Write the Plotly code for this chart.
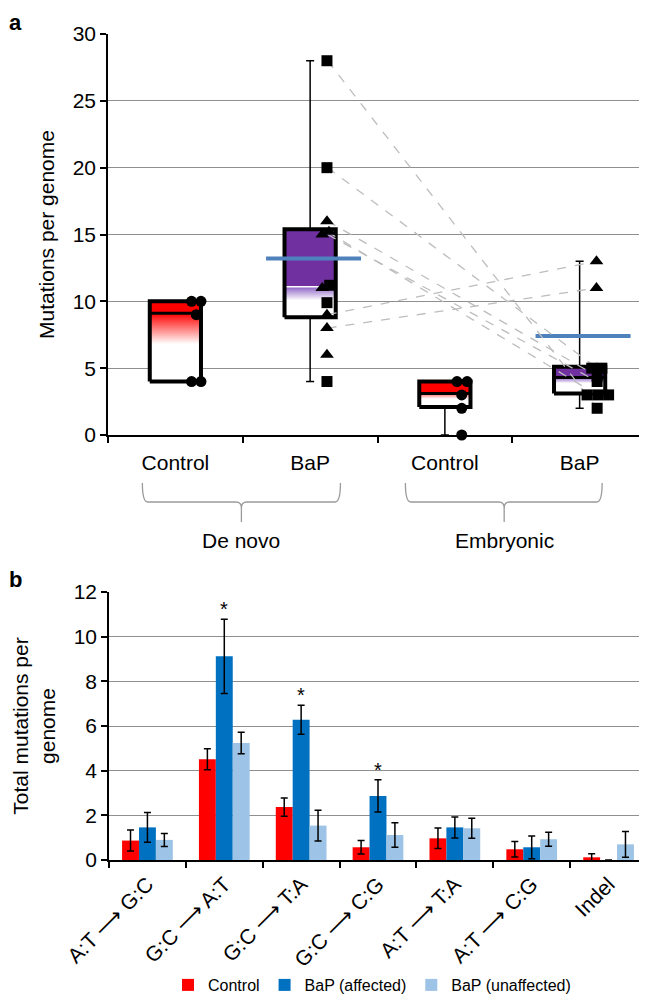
import plotly.graph_objects as go

# ---------------- DATA ----------------
# Panel a
groups = ["Control", "BaP", "Control", "BaP"]
sections = ["De novo", "Embryonic"]
box_min = [4, 4, 0, 2]
box_q1 = [4, 8.8, 2.1, 3.1]
box_median = [9.1, 11.1, 3.1, 4.3]
box_q3 = [10, 15.4, 4.0, 5.1]
box_max = [10, 28, 4, 13]
bap_mean = [None, 13.2, None, 7.4]

control_denovo = [10, 10, 9, 4, 4]
control_embryonic = [4, 4, 3, 2, 0]
bap_denovo_squares = [28, 20, 11.2, 9.9, 4]
bap_denovo_triangles = [16, 15, 15.2, 11, 9, 8, 6]
bap_embryonic_squares = [5, 5, 4.4, 4, 3, 3, 3, 2]
bap_embryonic_triangles = [13, 11]
pair_denovo = [28, 20, 16, 15, 15.2, 9, 8]
pair_embryonic = [2, 5, 4.4, 4, 3, 13, 11]

# Panel b
mutation_types = ["A:T \u27F6 G:C", "G:C \u27F6 A:T", "G:C \u27F6 T:A", "G:C \u27F6 C:G",
                  "A:T \u27F6 T:A", "A:T \u27F6 C:G", "Indel"]
series_names = ["Control", "BaP (affected)", "BaP (unaffected)"]
control_vals = [0.87, 4.51, 2.37, 0.57, 0.97, 0.48, 0.12]
control_err = [0.47, 0.47, 0.41, 0.30, 0.46, 0.35, 0.16]
affected_vals = [1.46, 9.12, 6.28, 2.87, 1.46, 0.57, 0.0]
affected_err = [0.67, 1.66, 0.65, 0.72, 0.47, 0.51, 0.0]
unaffected_vals = [0.90, 5.24, 1.54, 1.12, 1.42, 0.93, 0.70]
unaffected_err = [0.29, 0.48, 0.69, 0.55, 0.45, 0.31, 0.58]
significant = [False, True, True, True, False, False, False]

# ---------------- STYLE ----------------
FONT = "Liberation Sans, Arial, Helvetica, sans-serif"
FS = 21
PAGE_OFF = 8            # browser body margin
W, H = 647 - PAGE_OFF, 994 - PAGE_OFF
RED = "#FF0000"
PURPLE = "#7030A0"
BLUE = "#0070C0"
LBLUE = "#9DC3E6"
MEAN_BLUE = "#4F81BD"
GRID = "#8f8f8f"

def fx(p):  # page pixel column -> paper
    return (p - PAGE_OFF) / W

def fy(p):  # page pixel row -> paper
    return 1 - (p - PAGE_OFF) / H

upper_colors = [RED, PURPLE, RED, PURPLE]
grad_colors = [RED, "#8b5fc4", "#ff6a6a", "#8b5fc4"]
grad_fade = [0.45, 0.45, 0.4, 0.35]
median_colors = ["black", "white", "black", "black"]
half_w = 0.19

dx_control_denovo = [0.12, 0.19, 0.155, 0.12, 0.19]
dx_control_embryonic = [0.09, 0.165, 0.125, 0.125, 0.125]
dx_denovo_sq = [0.125, 0.125, 0.145, 0.125, 0.125]
dx_denovo_tri = [0.125, 0.09, 0.14, 0.09, 0.125, 0.125, 0.125]
dx_emb_sq = [0.09, 0.165, 0.13, 0.13, 0.055, 0.135, 0.215, 0.13]
dx_emb_tri = [0.125, 0.125]

fig = go.Figure()

# whiskers
for i in range(4):
    wx, wy = [], []
    if box_max[i] > box_q3[i]:
        wx += [i, i, None, i - 0.03, i + 0.03, None]
        wy += [box_q3[i], box_max[i], None, box_max[i], box_max[i], None]
    if box_min[i] < box_q1[i]:
        wx += [i, i, None, i - 0.03, i + 0.03, None]
        wy += [box_q1[i], box_min[i], None, box_min[i], box_min[i], None]
    if wx:
        fig.add_trace(go.Scatter(x=wx, y=wy, mode="lines", line=dict(color="black", width=1.5),
                                 showlegend=False, hoverinfo="skip", xaxis="x", yaxis="y",
                                 cliponaxis=False))

# boxes
for i in range(4):
    x0, x1 = i - half_w, i + half_w
    fig.add_trace(go.Scatter(x=[x0, x1, x1, x0, x0],
                             y=[box_median[i], box_median[i], box_q3[i], box_q3[i], box_median[i]],
                             mode="lines", line=dict(width=0), fill="toself",
                             fillcolor=upper_colors[i], showlegend=False, hoverinfo="skip",
                             xaxis="x", yaxis="y"))
    lo, hi = box_q1[i], box_median[i]
    start = hi - grad_fade[i] * (hi - lo)
    fig.add_trace(go.Scatter(x=[x0, x1, x1, x0, x0],
                             y=[lo, lo, hi, hi, lo],
                             mode="lines", line=dict(width=0), fill="toself",
                             fillgradient=dict(type="vertical",
                                               colorscale=[[0, "white"], [1, grad_colors[i]]],
                                               start=start, stop=hi),
                             showlegend=False, hoverinfo="skip", xaxis="x", yaxis="y"))
    fig.add_trace(go.Scatter(x=[x0, x1], y=[box_median[i], box_median[i]], mode="lines",
                             line=dict(color=median_colors[i], width=3 if median_colors[i] == "black" else 1.5),
                             showlegend=False, hoverinfo="skip", xaxis="x", yaxis="y"))
    fig.add_trace(go.Scatter(x=[x0, x1, x1, x0, x0],
                             y=[box_q1[i], box_q1[i], box_q3[i], box_q3[i], box_q1[i]],
                             mode="lines", line=dict(color="black", width=4),
                             showlegend=False, hoverinfo="skip", xaxis="x", yaxis="y"))

# mean lines
for i in range(4):
    if bap_mean[i] is not None:
        fig.add_trace(go.Scatter(x=[i - 0.327, i + 0.378], y=[bap_mean[i], bap_mean[i]], mode="lines",
                                 line=dict(color=MEAN_BLUE, width=4), showlegend=False,
                                 hoverinfo="skip", xaxis="x", yaxis="y"))

# paired dashed lines
px, pyv = [], []
for a, b in zip(pair_denovo, pair_embryonic):
    px += [1.13, 3.13, None]
    pyv += [a, b, None]
fig.add_trace(go.Scatter(x=px, y=pyv, mode="lines",
                         line=dict(color="#bdbdbd", width=1.3, dash="dash"),
                         showlegend=False, hoverinfo="skip", xaxis="x", yaxis="y"))

def pts(vals, base, dxs, symbol, size):
    fig.add_trace(go.Scatter(x=[base + d for d in dxs], y=vals, mode="markers",
                             marker=dict(symbol=symbol, size=size, color="black",
                                         line=dict(width=0)),
                             showlegend=False, hoverinfo="skip", xaxis="x", yaxis="y",
                             cliponaxis=False))

pts(control_denovo, 0, dx_control_denovo, "circle", 11)
pts(control_embryonic, 2, dx_control_embryonic, "circle", 11)
pts(bap_denovo_squares, 1, dx_denovo_sq, "square", 11)
pts(bap_denovo_triangles, 1, dx_denovo_tri, "triangle-up", 12)
pts(bap_embryonic_squares, 3, dx_emb_sq, "square", 11)
pts(bap_embryonic_triangles, 3, dx_emb_tri, "triangle-up", 12)

# Panel b bars
for name, vals, err, col in zip(series_names,
                                [control_vals, affected_vals, unaffected_vals],
                                [control_err, affected_err, unaffected_err],
                                [RED, BLUE, LBLUE]):
    fig.add_trace(go.Bar(x=mutation_types, y=vals, name=name, marker=dict(color=col, line=dict(width=0)),
                         error_y=dict(type="data", array=err, visible=True, color="black",
                                      thickness=1.5, width=3.5),
                         xaxis="x2", yaxis="y2"))

annotations = []
for cat, v, e, s in zip(mutation_types, affected_vals, affected_err, significant):
    if s:
        annotations.append(dict(x=cat, y=v + e, xref="x2", yref="y2", text="*", showarrow=False,
                                xanchor="center", yanchor="bottom", yshift=-3,
                                font=dict(size=20, color="black", family=FONT)))

annotations += [
    dict(x=fx(15), y=fy(22), xref="paper", yref="paper", text="<b>a</b>", showarrow=False,
         xanchor="center", yanchor="middle", font=dict(size=22, color="black", family=FONT)),
    dict(x=fx(15), y=fy(579), xref="paper", yref="paper", text="<b>b</b>", showarrow=False,
         xanchor="center", yanchor="middle", font=dict(size=22, color="black", family=FONT)),
]

brace_spans = [(-0.245, 0.49, 1.225), (1.707, 2.44, 3.167)]
shapes = []
yt, yb, ytip = fy(483), fy(502), fy(522)
for (xl, xc, xr), sec in zip(brace_spans, sections):
    d = 0.04
    e = fy(502) - fy(508)
    path = (f"M {xl},{yt} Q {xl},{yb} {xl + d},{yb} L {xc - d},{yb} "
            f"Q {xc},{yb} {xc},{yb - e} L {xc},{ytip} "
            f"M {xc},{yb - e} Q {xc},{yb} {xc + d},{yb} L {xr - d},{yb} "
            f"Q {xr},{yb} {xr},{yt}")
    shapes.append(dict(type="path", path=path, xref="x", yref="paper",
                       line=dict(color="#9a9a9a", width=1.3)))
    annotations.append(dict(x=xc, y=fy(540), xref="x", yref="paper", text=sec, showarrow=False,
                            xanchor="center", yanchor="middle",
                            font=dict(size=FS, color="black", family=FONT)))

axis_common = dict(showline=True, linecolor="black", linewidth=1.5, zeroline=False,
                   automargin=False, tickfont=dict(size=FS, color="black", family=FONT))

fig.update_layout(
    width=W, height=H, margin=dict(l=0, r=0, t=0, b=0, autoexpand=False),
    paper_bgcolor="white", plot_bgcolor="white",
    font=dict(family=FONT, color="black"),
    barmode="group", bargap=0.34, bargroupgap=0,
    xaxis=dict(domain=[fx(108), 1], anchor="y", range=[-0.5, 3.5], tickmode="array",
               tickvals=[0, 1, 2, 3], ticktext=groups, ticks="", showgrid=False,
               ticklabelstandoff=8,
               minor=dict(tickmode="array", tickvals=[-0.5, 0.5, 1.5, 2.5, 3.5], ticks="outside",
                          ticklen=6, tickcolor="black", tickwidth=1.5, showgrid=False),
               **axis_common),
    yaxis=dict(domain=[fy(435), fy(34)], anchor="x", range=[0, 30], dtick=5, showgrid=True,
               gridcolor=GRID, gridwidth=1, ticks="outside", ticklen=6, tickcolor="black",
               tickwidth=1.5,
               title=dict(text="Mutations per genome", font=dict(size=FS, family=FONT), standoff=12),
               **axis_common),
    xaxis2=dict(domain=[fx(109), 1], anchor="y2", type="category", tickson="boundaries",
                ticks="outside", ticklen=6, tickcolor="black", tickwidth=1.5, tickangle=-45,
                showgrid=False, ticklabelstandoff=2, **axis_common),
    yaxis2=dict(domain=[fy(860), fy(592)], anchor="x2", range=[0, 12], dtick=2, showgrid=True,
                gridcolor=GRID, gridwidth=1, ticks="outside", ticklen=6, tickcolor="black",
                tickwidth=1.5,
                title=dict(text="Total mutations per<br>genome", font=dict(size=FS, family=FONT),
                           standoff=12),
                **axis_common),
    legend=dict(orientation="h", x=fx(372), xanchor="center", y=fy(985), yanchor="middle",
                font=dict(size=16, family=FONT, color="black"), bgcolor="rgba(0,0,0,0)"),
    annotations=annotations, shapes=shapes,
)

fig.write_html("out.html")
